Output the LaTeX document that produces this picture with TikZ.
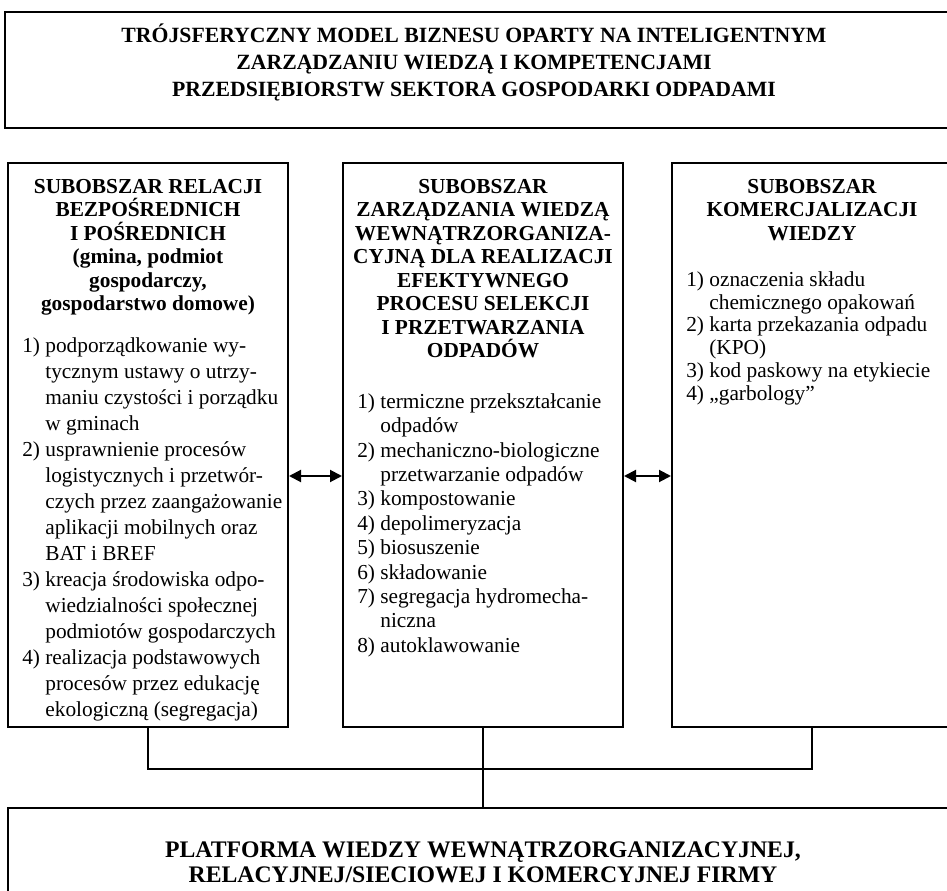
\documentclass[tikz,border=0pt]{standalone}
\usepackage{fontspec}
\setmainfont{Liberation Serif}
\usetikzlibrary{arrows.meta}

\newcommand{\gora}{\rule{0pt}{12pt}}

\tikzstyle{every node}=[font=\fontsize{16}{18.3}\selectfont, inner sep=0pt]
\tikzstyle{ramka}=[draw, line width=1.5pt]
\tikzstyle{obszar}=[draw, line width=1.5pt, minimum width=210pt, minimum height=423pt]
\tikzstyle{naglowek}=[anchor=north, align=center, font=\fontsize{16}{17.6}\selectfont\bfseries]
\tikzstyle{lista}=[anchor=north west]
\tikzstyle{dwustr}=[{Triangle[length=9pt,width=9pt]}-{Triangle[length=9pt,width=9pt]}, line width=1.5pt]
\tikzstyle{laczenie}=[line width=2.2pt]

\begin{document}
\begin{tikzpicture}[x=0.75pt, y=-0.75pt]
            \useasboundingbox (0,0) rectangle (947,891);
            \clip (0,0) rectangle (947,891);

            % tytul modelu
            \draw[ramka] (5,12) rectangle (958,128);
            \node[naglowek, font=\fontsize{16.3}{20.2}\selectfont\bfseries] (tytul) at (474,24)
                {\gora TRÓJSFERYCZNY MODEL BIZNESU OPARTY NA INTELIGENTNYM\\
                 ZARZĄDZANIU WIEDZĄ I KOMPETENCJAMI\\
                 PRZEDSIĘBIORSTW SEKTORA GOSPODARKI ODPADAMI};

            % lewy podobszar
            \begin{scope}[xshift=6pt]
                \node[obszar] (lewy) at (140,445) {};
                \node[naglowek] (lewyN) at (140,177)
                    {\gora SUBOBSZAR RELACJI\\BEZPOŚREDNICH\\I POŚREDNICH\\(gmina, podmiot\\gospodarczy,\\gospodarstwo domowe)};
                \node[lista] (lewyL) at (14,334) {\fontsize{16}{19.5}\selectfont\begin{tabular}{@{}l@{ }l@{}}
                    1) & podporządkowanie wy-\\
                       & tycznym ustawy o utrzy-\\
                       & maniu czystości i porządku\\
                       & w gminach\\
                    2) & usprawnienie procesów\\
                       & logistycznych i przetwór-\\
                       & czych przez zaangażowanie\\
                       & aplikacji mobilnych oraz\\
                       & BAT i BREF\\
                    3) & kreacja środowiska odpo-\\
                       & wiedzialności społecznej\\
                       & podmiotów gospodarczych\\
                    4) & realizacja podstawowych\\
                       & procesów przez edukację\\
                       & ekologiczną (segregacja)
                    \end{tabular}};
            \end{scope}

            % srodkowy podobszar
            \begin{scope}[xshift=257.25pt]
                \node[obszar] (srodek) at (140,445) {};
                \node[naglowek] (srodekN) at (140,177)
                    {\gora SUBOBSZAR\\ZARZĄDZANIA WIEDZĄ\\WEWNĄTRZORGANIZA-\\CYJNĄ DLA REALIZACJI\\EFEKTYWNEGO\\PROCESU SELEKCJI\\I PRZETWARZANIA\\ODPADÓW};
                \node[lista] (srodekL) at (14,391) {\begin{tabular}{@{}l@{ }l@{}}
                    1) & termiczne przekształcanie\\
                       & odpadów\\
                    2) & mechaniczno-biologiczne\\
                       & przetwarzanie odpadów\\
                    3) & kompostowanie\\
                    4) & depolimeryzacja\\
                    5) & biosuszenie\\
                    6) & składowanie\\
                    7) & segregacja hydromecha-\\
                       & niczna\\
                    8) & autoklawowanie
                    \end{tabular}};
            \end{scope}

            % prawy podobszar
            \begin{scope}[xshift=504pt]
                \node[obszar] (prawy) at (140,445) {};
                \node[naglowek] (prawyN) at (140,177)
                    {\gora SUBOBSZAR\\KOMERCJALIZACJI\\WIEDZY};
                \node[lista] (prawyL) at (14,270) {\fontsize{16}{17.1}\selectfont\begin{tabular}{@{}l@{ }l@{}}
                    1) & oznaczenia składu\\
                       & chemicznego opakowań\\
                    2) & karta przekazania odpadu\\
                       & (KPO)\\
                    3) & kod paskowy na etykiecie\\
                    4) & „garbology”
                    \end{tabular}};
            \end{scope}

            % platforma wiedzy
            \node[ramka, minimum width=712.5pt, minimum height=81pt, align=center,
                  font=\fontsize{17.8}{18.8}\selectfont\bfseries] (platforma) at (483,862)
                {PLATFORMA WIEDZY WEWNĄTRZORGANIZACYJNEJ,\\
                 RELACYJNEJ/SIECIOWEJ I KOMERCYJNEJ FIRMY};

            % powiazania
            \draw[dwustr] ([yshift=-23.25pt]lewy.east) -- ([yshift=-23.25pt]srodek.west);
            \draw[dwustr] ([yshift=-23.25pt]srodek.east) -- ([yshift=-23.25pt]prawy.west);
            \draw[laczenie] (lewy.south) -- ++(0,41) -| (prawy.south);
            \draw[laczenie] (srodek.south) -- (platforma.north);
        \end{tikzpicture}
\end{document}
